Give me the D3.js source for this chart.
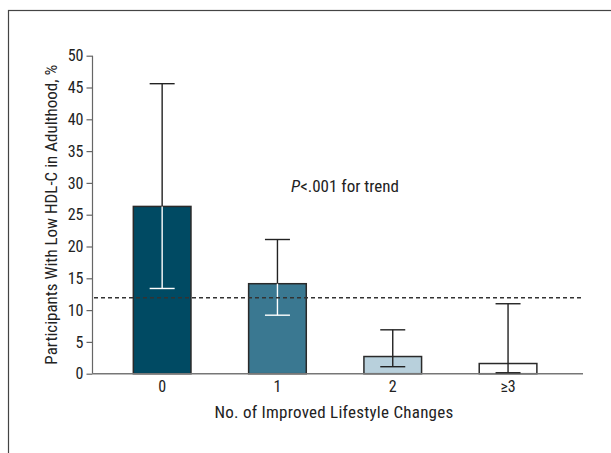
<!DOCTYPE html>
<html lang="en">
<head>
<meta charset="UTF-8">
<title>Low HDL-C by lifestyle changes</title>
<script src="https://cdn.jsdelivr.net/npm/d3@7"></script>
<style>
  body { margin: 0; background: #fff; }
  text { font-family: "Liberation Sans Narrow", "Arial Narrow", "Roboto Condensed", "Liberation Sans", sans-serif; fill: #222; }
</style>
</head>
<body>
<svg id="chart" width="611" height="453"></svg>
<script>
// data
const categories = ["0", "1", "2", "\u22653"];
const percents = [26.3, 14.15, 2.7, 1.6];
const upperCI = [45.6, 21.1, 6.9, 11.0];
const lowerCI = [13.4, 9.2, 1.1, 0.15];
const barColors = ["#004a63", "#3a7891", "#b8d0dc", "#ffffff"];
const overallRate = 11.95;
const yTicks = [0, 5, 10, 15, 20, 25, 30, 35, 40, 45, 50];

const svg = d3.select("#chart");

// outer frame (runs off right and bottom)
svg.append("rect")
  .attr("x", 8.5).attr("y", 10.5)
  .attr("width", 640).attr("height", 480)
  .attr("fill", "none").attr("stroke", "#444").attr("stroke-width", 1.2);

const x = d3.scaleBand().domain(categories).range([104.5, 565.7])
  .paddingInner(0.5).paddingOuter(0.25);
const y = d3.scaleLinear().domain([0, 50]).range([373.7, 55.7]);

const axisX0 = 92.5, axisX1 = 583;

// y axis
const yAxis = svg.append("g")
  .attr("transform", `translate(${axisX0},0)`)
  .call(d3.axisLeft(y).tickValues(yTicks).tickSize(6).tickPadding(3));
yAxis.select(".domain").remove();
yAxis.selectAll(".tick line").attr("stroke", "#666").attr("stroke-width", 1.2);
yAxis.selectAll(".tick text").attr("font-size", 16).attr("fill", "#222");
svg.append("line")
  .attr("x1", axisX0).attr("x2", axisX0)
  .attr("y1", y(50)).attr("y2", y(0))
  .attr("stroke", "#666").attr("stroke-width", 1.2);

// x axis tick labels (no tick marks)
const xAxis = svg.append("g")
  .attr("transform", `translate(0,${y(0)})`)
  .call(d3.axisBottom(x).tickSize(0).tickPadding(7));
xAxis.select(".domain").remove();
xAxis.selectAll(".tick text").attr("font-size", 16).attr("fill", "#222");

// bars
svg.selectAll("rect.bar")
  .data(categories)
  .enter()
  .append("rect")
  .attr("class", "bar")
  .attr("x", d => x(d))
  .attr("width", x.bandwidth())
  .attr("y", (d, i) => y(percents[i]))
  .attr("height", (d, i) => y(0) - y(percents[i]))
  .attr("fill", (d, i) => barColors[i])
  .attr("stroke", "#2a2a2a")
  .attr("stroke-width", 1.5);

// x axis line drawn over bar bottoms
svg.append("line")
  .attr("x1", axisX0).attr("x2", axisX1)
  .attr("y1", y(0)).attr("y2", y(0))
  .attr("stroke", "#777").attr("stroke-width", 1.5);

// error bars: dark above bar, white inside dark bars
const capW = 25;
categories.forEach((c, i) => {
  const cx = x(c) + x.bandwidth() / 2;
  const inner = i < 2 ? "#ffffff" : "#222";
  // upper whisker
  svg.append("line")
    .attr("x1", cx).attr("x2", cx)
    .attr("y1", y(upperCI[i])).attr("y2", y(percents[i]))
    .attr("stroke", "#222").attr("stroke-width", 1.4);
  svg.append("line")
    .attr("x1", cx - capW / 2).attr("x2", cx + capW / 2)
    .attr("y1", y(upperCI[i])).attr("y2", y(upperCI[i]))
    .attr("stroke", "#222").attr("stroke-width", 1.4);
  // lower whisker
  svg.append("line")
    .attr("x1", cx).attr("x2", cx)
    .attr("y1", y(percents[i])).attr("y2", y(lowerCI[i]))
    .attr("stroke", inner).attr("stroke-width", 1.4);
  svg.append("line")
    .attr("x1", cx - capW / 2).attr("x2", cx + capW / 2)
    .attr("y1", y(lowerCI[i])).attr("y2", y(lowerCI[i]))
    .attr("stroke", inner).attr("stroke-width", 1.4);
});

// overall reference line
svg.append("line")
  .attr("x1", 94).attr("x2", 581)
  .attr("y1", y(overallRate)).attr("y2", y(overallRate))
  .attr("stroke", "#333").attr("stroke-width", 1.4)
  .attr("stroke-dasharray", "4,3");

// annotation
const note = svg.append("text")
  .attr("x", 291).attr("y", 192)
  .attr("font-size", 17);
note.append("tspan").attr("font-style", "italic").text("P");
note.append("tspan").text("<.001 for trend");

// axis titles
svg.append("text")
  .attr("transform", `translate(57,${(y(0) + y(50)) / 2}) rotate(-90)`)
  .attr("text-anchor", "middle")
  .attr("font-size", 17)
  .text("Participants With Low HDL-C in Adulthood, %");

svg.append("text")
  .attr("x", 334).attr("y", 418)
  .attr("text-anchor", "middle")
  .attr("font-size", 17)
  .attr("letter-spacing", 0.25)
  .text("No. of Improved Lifestyle Changes");
</script>
</body>
</html>
